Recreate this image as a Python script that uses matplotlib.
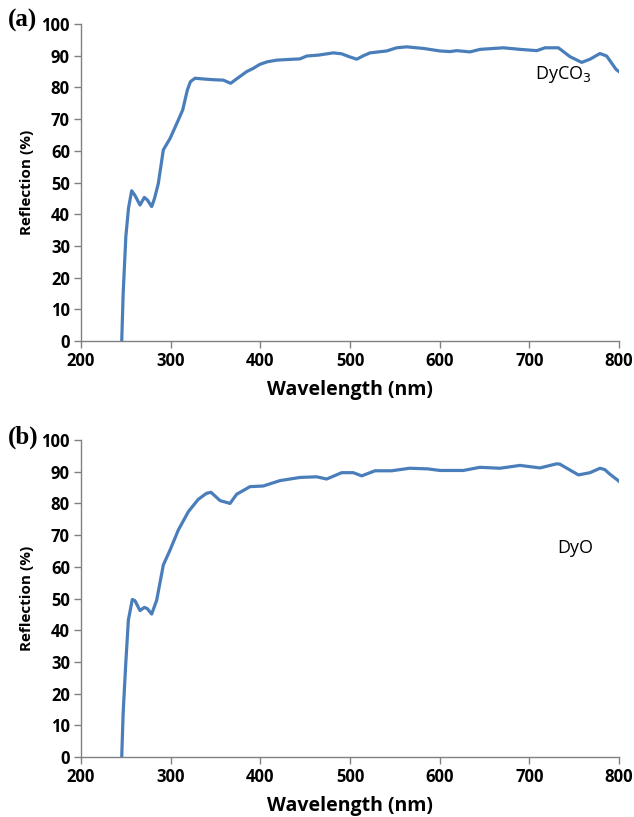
import numpy as np
import matplotlib.pyplot as plt

# DyCO3 reflection spectrum
wl_a = [245.4, 247, 250, 253, 256.5, 260, 265.8, 270.6, 274, 278.8, 282, 286.2,
        291.8, 299.3, 308.5, 313.4, 318.6, 322, 327.1, 335, 343.9, 350, 358.7,
        366.9, 375, 384.8, 392, 399.6, 408, 418.2, 430, 444.2, 451.7, 465, 481.4,
        490.7, 500, 507.5, 515, 522.3, 540.9, 552, 563.2, 581.8, 600.4, 611.5,
        619, 633.8, 645, 671, 689.9, 708.4, 717.5, 732.4, 745.4, 758.4, 767.7,
        778.8, 786.3, 796.7, 800]
refl_a = [0, 15, 33, 42, 47.4, 46, 42.9, 45.3, 44.5, 42.4, 45, 49.7,
          60.3, 63.9, 69.7, 72.9, 79.2, 81.8, 82.9, 82.7, 82.5, 82.4, 82.3,
          81.3, 83, 85, 86, 87.3, 88.1, 88.6, 88.8, 89.0, 89.9, 90.2, 90.9,
          90.6, 89.6, 88.9, 90, 90.9, 91.5, 92.5, 92.8, 92.3, 91.5, 91.3,
          91.6, 91.2, 92.0, 92.5, 92.0, 91.6, 92.5, 92.5, 89.7, 87.9, 88.9,
          90.7, 89.9, 85.7, 85.0]

# DyO reflection spectrum
wl_b = [245.4, 247, 250, 252.8, 257.2, 260.2, 265.8, 270.6, 274, 278.8, 284.4,
        291.8, 299.3, 308.5, 319.7, 330.8, 340, 345, 355, 366.2, 373.6, 388.5,
        403.3, 421.9, 444.2, 462.8, 474, 490.7, 503.7, 513, 527.9, 546.5,
        566.5, 586.9, 600.4, 626.4, 645, 667.3, 689.6, 711.9, 730.5, 734,
        754.8, 767.7, 778.8, 784, 790, 799.2, 800]
refl_b = [0, 14, 30, 43.2, 49.7, 49.3, 46.2, 47.2, 46.8, 45.1, 49.5,
          60.6, 65.3, 71.6, 77.4, 81.3, 83.2, 83.5, 80.9, 80.0, 82.9, 85.3,
          85.5, 87.2, 88.2, 88.4, 87.7, 89.7, 89.7, 88.7, 90.3, 90.3,
          91.1, 90.9, 90.4, 90.4, 91.4, 91.1, 92.0, 91.2, 92.5, 92.4,
          89.0, 89.7, 91.1, 90.7, 89.2, 87.2, 87.0]

xticks = [200, 300, 400, 500, 600, 700, 800]
yticks = [0, 10, 20, 30, 40, 50, 60, 70, 80, 90, 100]

line_color = "#4a7ebb"
sans = "Open Sans"

fig = plt.figure(figsize=(6.34, 8.17), dpi=100)
ax_a = fig.add_axes([0.1278, 0.5826, 0.8485, 0.388])
ax_b = fig.add_axes([0.1278, 0.0734, 0.8485, 0.388])


def style_axes(ax):
    ax.set_xlim(200, 800)
    ax.set_ylim(0, 100)
    ax.set_xticks(xticks)
    ax.set_yticks(yticks)
    ax.set_xticklabels([str(t) for t in xticks], fontsize=12,
                       fontweight="bold", fontfamily=sans)
    ax.set_yticklabels([str(t) for t in yticks], fontsize=12,
                       fontweight="bold", fontfamily=sans)
    for s in ["top", "right"]:
        ax.spines[s].set_visible(False)
    for s in ["left", "bottom"]:
        ax.spines[s].set_color("#808080")
        ax.spines[s].set_linewidth(1.0)
    ax.tick_params(direction="out", length=5, width=1, color="#808080", pad=3)
    ax.set_xlabel("Wavelength (nm)", fontsize=14, fontweight="bold",
                  fontfamily=sans, labelpad=7)
    ax.set_ylabel("Reflection (%)", fontsize=11, fontweight="bold",
                  fontfamily=sans, labelpad=5)


ax_a.plot(wl_a, refl_a, color=line_color, linewidth=2.3)
style_axes(ax_a)
ax_a.text(706, 84, r"DyCO$_3$", fontsize=13, fontfamily=sans, va="center")
fig.text(0.012, 0.975, "(a)", fontsize=18, fontweight="bold",
         fontfamily="Liberation Serif", va="center")

ax_b.plot(wl_b, refl_b, color=line_color, linewidth=2.3)
style_axes(ax_b)
ax_b.text(731, 66, "DyO", fontsize=13, fontfamily=sans, va="center")
fig.text(0.012, 0.465, "(b)", fontsize=18, fontweight="bold",
         fontfamily="Liberation Serif", va="center")

fig.savefig("out.png", dpi=100)
